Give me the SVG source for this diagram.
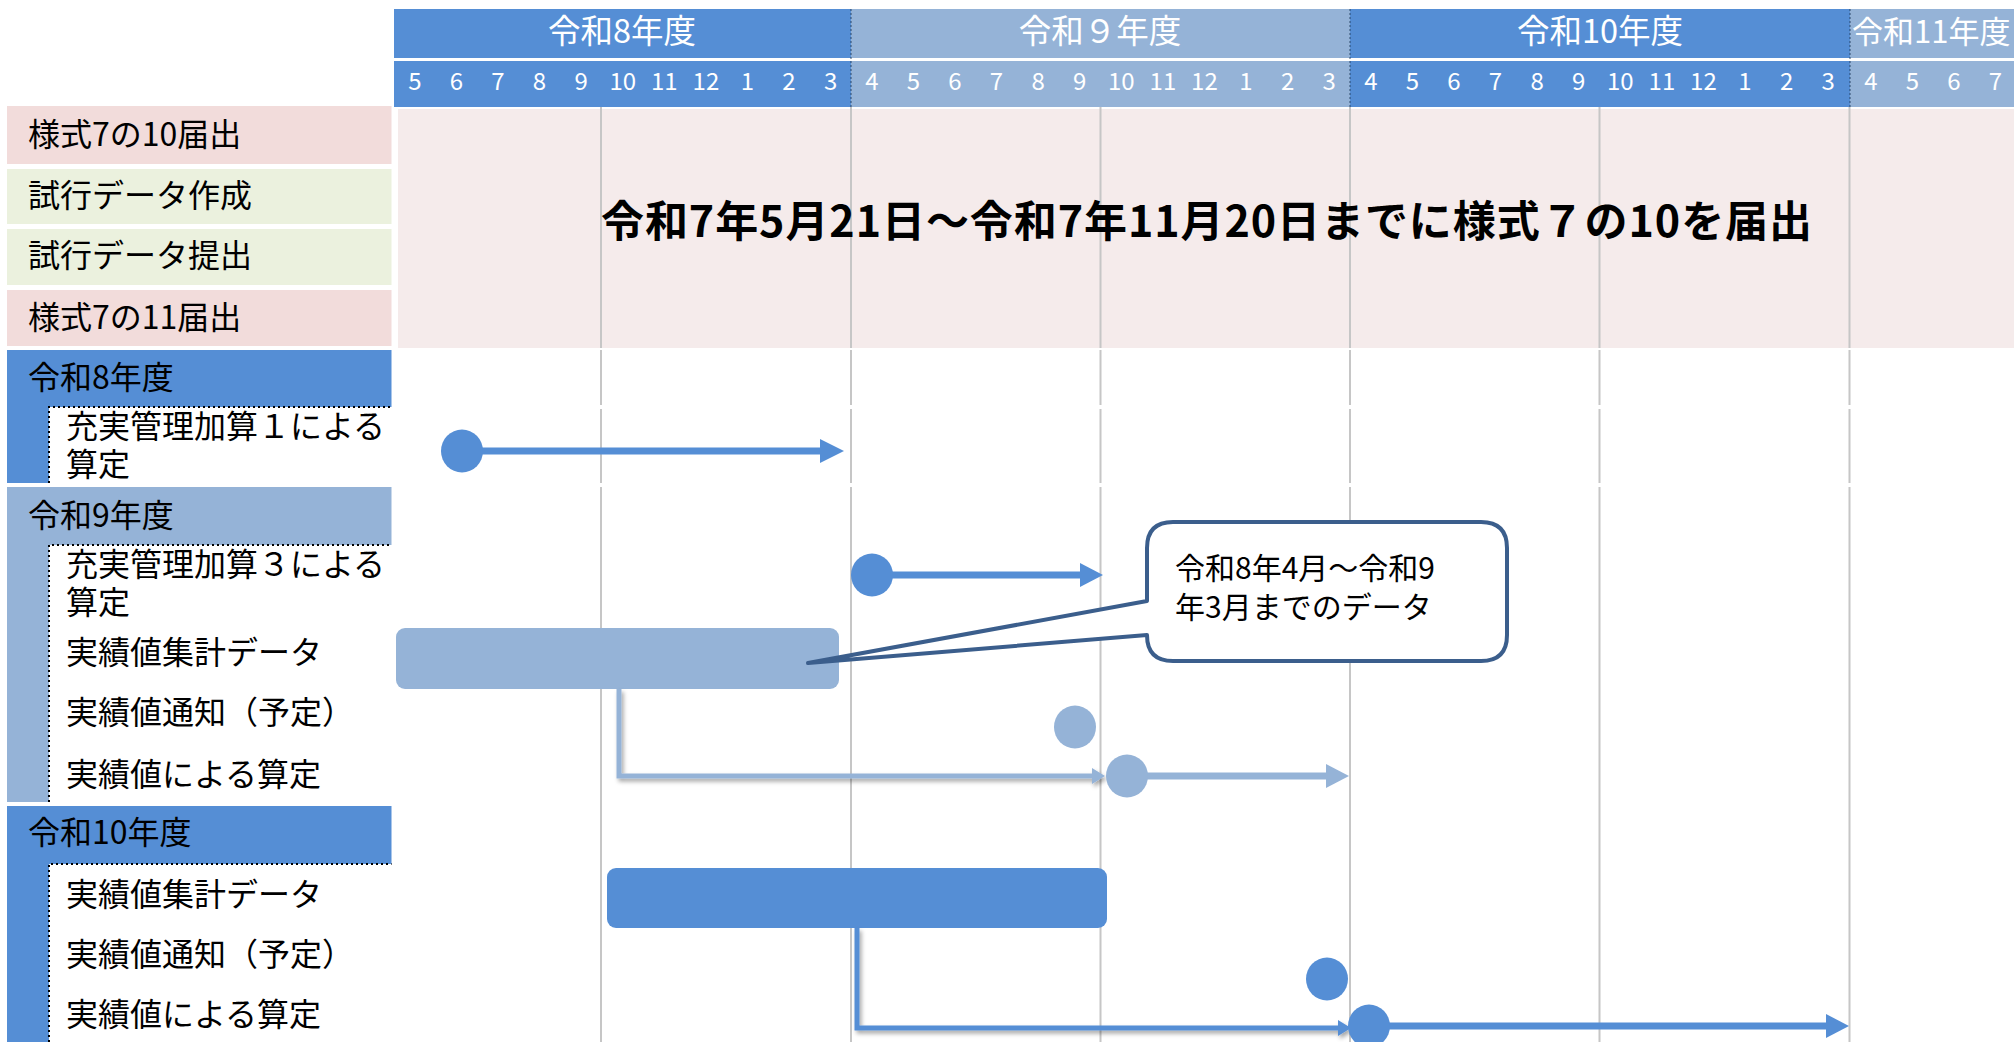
<svg xmlns="http://www.w3.org/2000/svg" width="2014" height="1042" viewBox="0 0 2014 1042">
<defs>
<style>
text{font-family:"Noto Sans CJK JP","Liberation Sans",sans-serif;}
.yr{font-size:32.5px;fill:#fff;text-anchor:middle;}
.mo{font-size:24px;fill:#fff;text-anchor:middle;}
.lb{font-size:32px;fill:#000;}
.co{font-size:30px;fill:#000;}
.big{font-size:43px;font-weight:bold;fill:#000;}
.grid{stroke:#c6c6c6;stroke-width:2;fill:none;}
.blue{fill:#558ed5;}
.lblue{fill:#95b3d7;}
.hsep{stroke:#1f3a5a;stroke-width:1.2;stroke-dasharray:2,2;opacity:0.7;}
.dot{stroke:#000;stroke-width:2;stroke-dasharray:2,3;fill:none;}
</style>
<filter id="sh" x="-5%" y="-20%" width="110%" height="160%">
<feDropShadow dx="2" dy="3" stdDeviation="2" flood-color="#000" flood-opacity="0.35"/>
</filter>
</defs>
<rect width="2014" height="1042" fill="#fff"/>

<g id="header">
<rect x="394" y="9" width="457" height="49" class="blue"/>
<rect x="851" y="9" width="499" height="49" class="lblue"/>
<rect x="1350" y="9" width="500" height="49" class="blue"/>
<rect x="1850" y="9" width="164" height="49" class="lblue"/>
<rect x="394" y="61" width="457" height="46" class="blue"/>
<rect x="851" y="61" width="499" height="46" class="lblue"/>
<rect x="1350" y="61" width="500" height="46" class="blue"/>
<rect x="1850" y="61" width="164" height="46" class="lblue"/>
<line x1="851" y1="9" x2="851" y2="107" class="hsep"/>
<line x1="1350" y1="9" x2="1350" y2="107" class="hsep"/>
<line x1="1850" y1="9" x2="1850" y2="107" class="hsep"/>
<text class="yr" x="622" y="43">令和8年度</text>
<text class="yr" x="1100" y="43">令和９年度</text>
<text class="yr" x="1600" y="43">令和10年度</text>
<text class="yr" x="1852" y="43" style="text-anchor:start;font-size:31px">令和11年度</text>
<g>
<text class="mo" x="414.8" y="90">5</text><text class="mo" x="456.4" y="90">6</text><text class="mo" x="498" y="90">7</text><text class="mo" x="539.5" y="90">8</text><text class="mo" x="581.1" y="90">9</text><text class="mo" x="622.7" y="90">10</text><text class="mo" x="664.3" y="90">11</text><text class="mo" x="705.9" y="90">12</text><text class="mo" x="747.4" y="90">1</text><text class="mo" x="789" y="90">2</text><text class="mo" x="830.6" y="90">3</text>
<text class="mo" x="871.8" y="90">4</text><text class="mo" x="913.4" y="90">5</text><text class="mo" x="955" y="90">6</text><text class="mo" x="996.5" y="90">7</text><text class="mo" x="1038.1" y="90">8</text><text class="mo" x="1079.7" y="90">9</text><text class="mo" x="1121.3" y="90">10</text><text class="mo" x="1162.9" y="90">11</text><text class="mo" x="1204.4" y="90">12</text><text class="mo" x="1246" y="90">1</text><text class="mo" x="1287.6" y="90">2</text><text class="mo" x="1329.2" y="90">3</text>
<text class="mo" x="1370.8" y="90">4</text><text class="mo" x="1412.4" y="90">5</text><text class="mo" x="1454" y="90">6</text><text class="mo" x="1495.5" y="90">7</text><text class="mo" x="1537.1" y="90">8</text><text class="mo" x="1578.7" y="90">9</text><text class="mo" x="1620.3" y="90">10</text><text class="mo" x="1661.9" y="90">11</text><text class="mo" x="1703.4" y="90">12</text><text class="mo" x="1745" y="90">1</text><text class="mo" x="1786.6" y="90">2</text><text class="mo" x="1828.2" y="90">3</text>
<text class="mo" x="1870.8" y="90">4</text><text class="mo" x="1912.4" y="90">5</text><text class="mo" x="1954" y="90">6</text><text class="mo" x="1995.5" y="90">7</text>
</g>
</g>

<g id="notice-area">
<rect x="398" y="109" width="1616" height="239" fill="#f5ebeb"/>
</g>

<g id="grid">
<path class="grid" d="M601 107V348M601 350V405M601 409V483M601 487V1042M851 107V348M851 350V405M851 409V483M851 487V1042M1100.5 107V348M1100.5 350V405M1100.5 409V483M1100.5 487V1042M1350 107V348M1350 350V405M1350 409V483M1350 487V1042M1599.5 107V348M1599.5 350V405M1599.5 409V483M1599.5 487V1042M1849.5 107V348M1849.5 350V405M1849.5 409V483M1849.5 487V1042"/>
</g>

<g id="notice-text">
<text class="big" x="601" y="237" textLength="1211" lengthAdjust="spacing">令和7年5月21日～令和7年11月20日までに様式７の10を届出</text>
</g>

<g id="label-yoshiki710">
<rect x="7" y="106" width="384.5" height="58" fill="#f2dcdb"/>
<text class="lb" x="28" y="146">様式7の10届出</text>
</g>
<g id="label-shiko-sakusei">
<rect x="7" y="169" width="384.5" height="55" fill="#ebf1de"/>
<text class="lb" x="28" y="207">試行データ作成</text>
</g>
<g id="label-shiko-teishutsu">
<rect x="7" y="229" width="384.5" height="56" fill="#ebf1de"/>
<text class="lb" x="28" y="267">試行データ提出</text>
</g>
<g id="label-yoshiki711">
<rect x="7" y="290" width="384.5" height="56" fill="#f2dcdb"/>
<text class="lb" x="28" y="329">様式7の11届出</text>
</g>

<g id="section-r8">
<rect x="7" y="350" width="384.5" height="57" class="blue"/>
<rect x="7" y="407" width="42" height="76" class="blue"/>
<path class="dot" d="M49 483V407H391.5"/>
<text class="lb" x="28" y="389">令和8年度</text>
<text class="lb" x="66" y="438">充実管理加算１による<tspan x="66" y="476">算定</tspan></text>
</g>

<g id="section-r9">
<rect x="7" y="487" width="384.5" height="58" class="lblue"/>
<rect x="7" y="545" width="42" height="257" class="lblue"/>
<path class="dot" d="M49 802V545H391.5"/>
<text class="lb" x="28" y="527">令和9年度</text>
<text class="lb" x="66" y="576">充実管理加算３による<tspan x="66" y="614">算定</tspan></text>
<text class="lb" x="66" y="664">実績値集計データ</text>
<text class="lb" x="66" y="724">実績値通知（予定）</text>
<text class="lb" x="66" y="786">実績値による算定</text>
</g>

<g id="section-r10">
<rect x="7" y="806" width="384.5" height="58" class="blue"/>
<rect x="7" y="864" width="42" height="178" class="blue"/>
<path class="dot" d="M49 1042V864H391.5"/>
<text class="lb" x="28" y="844">令和10年度</text>
<text class="lb" x="66" y="906">実績値集計データ</text>
<text class="lb" x="66" y="966">実績値通知（予定）</text>
<text class="lb" x="66" y="1026">実績値による算定</text>
</g>

<g id="bar-r9-data">
<rect x="396" y="628" width="443" height="61" rx="9" class="lblue"/>
</g>
<g id="bar-r10-data">
<rect x="607" y="868" width="500" height="60" rx="9" class="blue"/>
</g>

<g id="connectors">
<g filter="url(#sh)">
<path d="M619 689V776H1093" stroke="#95b3d7" stroke-width="5" fill="none"/>
<polygon points="1105,776 1092,768 1092,784" class="lblue"/>
<path d="M857 928V1028H1338" stroke="#558ed5" stroke-width="5" fill="none"/>
<polygon points="1351,1028 1338,1020 1338,1036" class="blue"/>
</g>
<line x1="462" y1="451" x2="822" y2="451" stroke="#558ed5" stroke-width="7"/>
<polygon points="844,451 820,439 820,463" class="blue"/>
<line x1="872" y1="575" x2="1082" y2="575" stroke="#558ed5" stroke-width="7"/>
<polygon points="1103,575 1080,563 1080,587" class="blue"/>
<line x1="1127" y1="776" x2="1328" y2="776" stroke="#95b3d7" stroke-width="7"/>
<polygon points="1349,776 1326,764 1326,788" class="lblue"/>
<line x1="1369" y1="1026" x2="1828" y2="1026" stroke="#558ed5" stroke-width="7"/>
<polygon points="1849,1026 1826,1014 1826,1038" class="blue"/>
</g>

<g id="milestone-r8-start"><ellipse cx="462" cy="451" rx="21" ry="21.5" class="blue"/></g>
<g id="milestone-r9-start"><ellipse cx="872" cy="575" rx="21" ry="21.5" class="blue"/></g>
<g id="milestone-r9-notice"><ellipse cx="1075" cy="727" rx="21" ry="21.5" class="lblue"/></g>
<g id="milestone-r9-calc"><ellipse cx="1127" cy="776" rx="21" ry="21.5" class="lblue"/></g>
<g id="milestone-r10-notice"><ellipse cx="1327" cy="979" rx="21" ry="21.5" class="blue"/></g>
<g id="milestone-r10-calc"><ellipse cx="1369" cy="1026" rx="21" ry="21.5" class="blue"/></g>

<g id="callout">
<path d="M1173 522H1481Q1507 522 1507 548V635Q1507 661 1481 661H1173Q1147 661 1147 635L808 663L1147 601V548Q1147 522 1173 522Z" fill="#fff" stroke="#3b5e8c" stroke-width="4" stroke-linejoin="round"/>
<text class="co" x="1175" y="579">令和8年4月～令和9<tspan x="1175" y="618">年3月までのデータ</tspan></text>
</g>
</svg>
